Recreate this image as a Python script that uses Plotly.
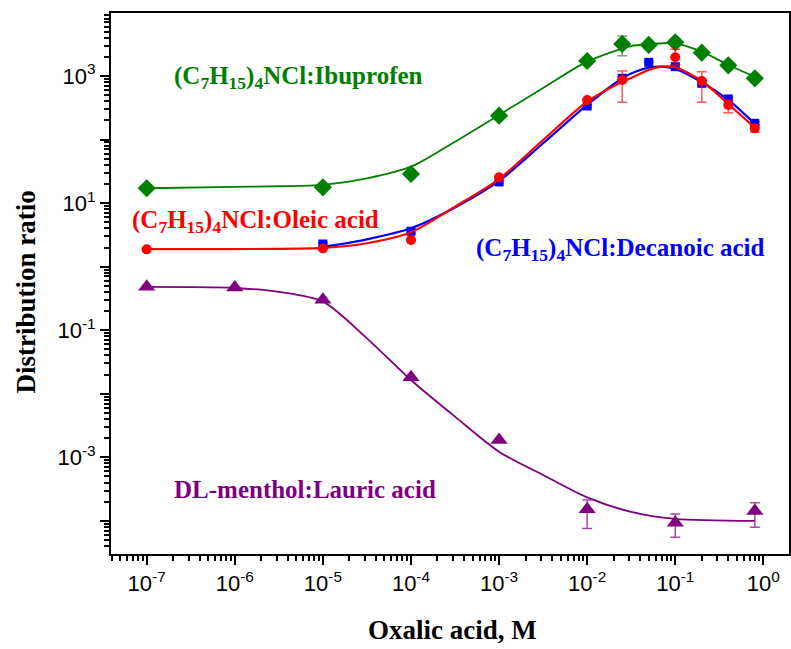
import plotly.graph_objects as go

# ---------------- data ----------------
# Measured points
ibu_x = [1e-7, 1e-5, 1e-4, 1e-3, 1e-2, 0.025, 0.05, 0.1, 0.2, 0.4, 0.8]
ibu_y = [17.1, 17.7, 28.7, 237, 1720, 3190, 3080, 3390, 2330, 1470, 920]
ibu_ep = [0, 0, 0, 0, 0, 1070, 0, 450, 0, 0, 0]
ibu_em = [0, 0, 0, 0, 0, 1100, 0, 450, 0, 0, 0]

ole_x = [1e-7, 1e-5, 1e-4, 1e-3, 1e-2, 0.025, 0.1, 0.2, 0.4, 0.8]
ole_y = [1.87, 1.93, 2.62, 25.5, 419, 865, 1970, 834, 350, 150]
ole_ep = [0, 0, 0, 0, 0, 333, 660, 335, 69, 19]
ole_em = [0, 0, 0, 0, 0, 480, 480, 449, 85, 20]

dec_x = [1e-5, 1e-4, 1e-3, 1e-2, 0.025, 0.05, 0.1, 0.2, 0.4, 0.8]
dec_y = [2.27, 3.6, 21.5, 337, 920, 1640, 1400, 767, 435, 180]
dec_ep = [0.1, 0.25, 1.2, 15, 50, 0, 90, 40, 25, 10]
dec_em = [0.1, 0.25, 1.2, 15, 50, 0, 90, 40, 25, 10]

lau_x = [1e-7, 1e-6, 1e-5, 1e-4, 1e-3, 1e-2, 0.1, 0.8]
lau_y = [0.484, 0.47, 0.30, 0.0182, 0.00187, 1.52e-4, 9.35e-5, 1.43e-4]
lau_ep = [0, 0, 0, 0, 0, 0.61e-4, 0.34e-4, 0.50e-4]
lau_em = [0, 0, 0, 0, 0, 0.76e-4, 0.385e-4, 0.64e-4]

# Fitted curves
ibu_fit_x = [1e-7, 1e-6, 3.16e-6, 1e-5, 3.16e-5, 1e-4, 3.16e-4, 1e-3, 3.16e-3, 1e-2,
             3.16e-2, 0.05, 0.1, 0.2, 0.4, 0.8]
ibu_fit_y = [17.1, 18.0, 18.4, 19.3, 24.5, 37.4, 92.5, 243, 647, 1680,
             2960, 3150, 3270, 2410, 1490, 975]

ole_fit_x = [1e-7, 1e-6, 1e-5, 3.16e-5, 1e-4, 3.16e-4, 1e-3, 3.16e-3, 1e-2,
             0.025, 3.16e-2, 0.05, 0.07, 0.1, 0.2, 0.4, 0.8]
ole_fit_y = [1.88, 1.89, 1.97, 2.33, 3.47, 8.78, 23.9, 98.4, 394,
             813, 930, 1243, 1400, 1370, 834, 362, 153]

dec_fit_x = [1e-5, 3.16e-5, 1e-4, 3.16e-4, 1e-3, 3.16e-3, 1e-2,
             0.025, 3.16e-2, 0.05, 0.07, 0.1, 0.2, 0.4, 0.8]
dec_fit_y = [2.04, 2.69, 4.01, 8.5, 22.3, 87.3, 350,
             920, 1094, 1351, 1400, 1289, 796, 419, 176]

lau_fit_x = [1e-7, 1e-6, 3.16e-6, 1e-5, 3.16e-5, 1e-4, 3.16e-4, 1e-3, 3.16e-3, 1e-2,
             3.16e-2, 0.1, 0.8]
lau_fit_y = [0.479, 0.461, 0.40, 0.281, 0.0745, 0.01644, 0.00436, 0.001225, 5.26e-4, 2.34e-4,
             1.38e-4, 1.07e-4, 9.95e-5]

x_tick_vals = [1e-7, 1e-6, 1e-5, 1e-4, 1e-3, 1e-2, 1e-1, 1e0]
x_tick_text = ["10<sup>-7</sup>", "10<sup>-6</sup>", "10<sup>-5</sup>", "10<sup>-4</sup>",
               "10<sup>-3</sup>", "10<sup>-2</sup>", "10<sup>-1</sup>", "10<sup>0</sup>"]
y_tick_vals = [1e-4, 1e-3, 1e-2, 1e-1, 1e0, 1e1, 1e2, 1e3]
y_tick_text = ["", "10<sup>-3</sup>", "", "10<sup>-1</sup>", "", "10<sup>1</sup>", "", "10<sup>3</sup>"]

GREEN = "#008000"
RED = "#FF0000"
BLUE = "#0000FF"
PURPLE = "#800080"

fig = go.Figure()


def add_series(fx, fy, px, py, ep, em, color, symbol, size, lw, err_color):
    fig.add_trace(go.Scatter(x=fx, y=fy, mode="lines",
                             line=dict(color=color, width=lw, shape="spline", smoothing=0.8),
                             showlegend=False, hoverinfo="skip"))
    fig.add_trace(go.Scatter(x=px, y=py, mode="markers",
                             marker=dict(color=color, symbol=symbol, size=size, line=dict(width=0)),
                             error_y=dict(type="data", array=ep, arrayminus=em, visible=True,
                                          color=err_color, thickness=1.5, width=5),
                             showlegend=False))


add_series(ibu_fit_x, ibu_fit_y, ibu_x, ibu_y, ibu_ep, ibu_em, GREEN, "diamond", 14, 1.8,
           "rgba(0,128,0,0.6)")
add_series(dec_fit_x, dec_fit_y, dec_x, dec_y, dec_ep, dec_em, BLUE, "square", 9, 2.2,
           "rgba(0,0,255,0.6)")
add_series(ole_fit_x, ole_fit_y, ole_x, ole_y, ole_ep, ole_em, RED, "circle", 10, 2.2,
           "rgba(255,0,0,0.65)")
add_series(lau_fit_x, lau_fit_y, lau_x, lau_y, lau_ep, lau_em, PURPLE, "triangle-up", 15, 1.8,
           "rgba(128,0,128,0.7)")


def minor_vals(k0, k1):
    vals = []
    for k in range(k0, k1 + 1):
        for m in range(2, 10):
            vals.append(m * 10 ** k)
    return vals


axis_common = dict(
    type="log", showline=True, linecolor="black", linewidth=2, mirror=True,
    ticks="outside", ticklen=9, tickwidth=2, tickcolor="black",
    showgrid=False, zeroline=False, automargin=False,
    tickfont=dict(family="Liberation Sans, Arial", size=22, color="black"),
)

fig.update_layout(
    width=791, height=649,
    margin=dict(l=111, r=2, t=13, b=95),
    paper_bgcolor="white", plot_bgcolor="white",
    xaxis=dict(**axis_common, range=[-7.405, 0.291], tickmode="array",
               tickvals=x_tick_vals, ticktext=x_tick_text,
               minor=dict(tickmode="array", tickvals=minor_vals(-8, 0), ticks="outside",
                          ticklen=5, tickwidth=1.5, tickcolor="black", showgrid=False)),
    yaxis=dict(**axis_common, range=[-4.522, 3.991], tickmode="array",
               tickvals=y_tick_vals, ticktext=y_tick_text,
               minor=dict(tickmode="array", tickvals=minor_vals(-5, 3), ticks="outside",
                          ticklen=5, tickwidth=1.5, tickcolor="black", showgrid=False)),
    showlegend=False,
)

title_font = dict(family="Liberation Serif, Times New Roman", size=27, color="black")
lab_font = dict(family="Liberation Serif, Times New Roman", size=25)

annots = [
    dict(text="<b>Oxalic acid, M</b>", x=0.503, y=-0.141, font=title_font,
         xanchor="center", yanchor="middle"),
    dict(text="<b>Distribution ratio</b>", x=-0.125, y=0.484, font=title_font, textangle=-90,
         xanchor="center", yanchor="middle"),
    dict(text="<b>(C<sub>7</sub>H<sub>15</sub>)<sub>4</sub>NCl:Ibuprofen</b>", x=0.0898, y=0.880,
         font=dict(lab_font, color=GREEN), xanchor="left", yanchor="middle"),
    dict(text="<b>(C<sub>7</sub>H<sub>15</sub>)<sub>4</sub>NCl:Oleic acid</b>", x=0.028, y=0.614,
         font=dict(lab_font, color=RED), xanchor="left", yanchor="middle"),
    dict(text="<b>(C<sub>7</sub>H<sub>15</sub>)<sub>4</sub>NCl:Decanoic acid</b>", x=0.535, y=0.562,
         font=dict(lab_font, color=BLUE), xanchor="left", yanchor="middle"),
    dict(text="<b>DL-menthol:Lauric acid</b>", x=0.0898, y=0.120,
         font=dict(lab_font, color=PURPLE), xanchor="left", yanchor="middle"),
]
for a in annots:
    fig.add_annotation(xref="paper", yref="paper", showarrow=False, **a)

fig.write_html("out.html", config={"displayModeBar": False},
               post_script="document.body.style.margin='0';document.body.style.overflow='hidden';")
